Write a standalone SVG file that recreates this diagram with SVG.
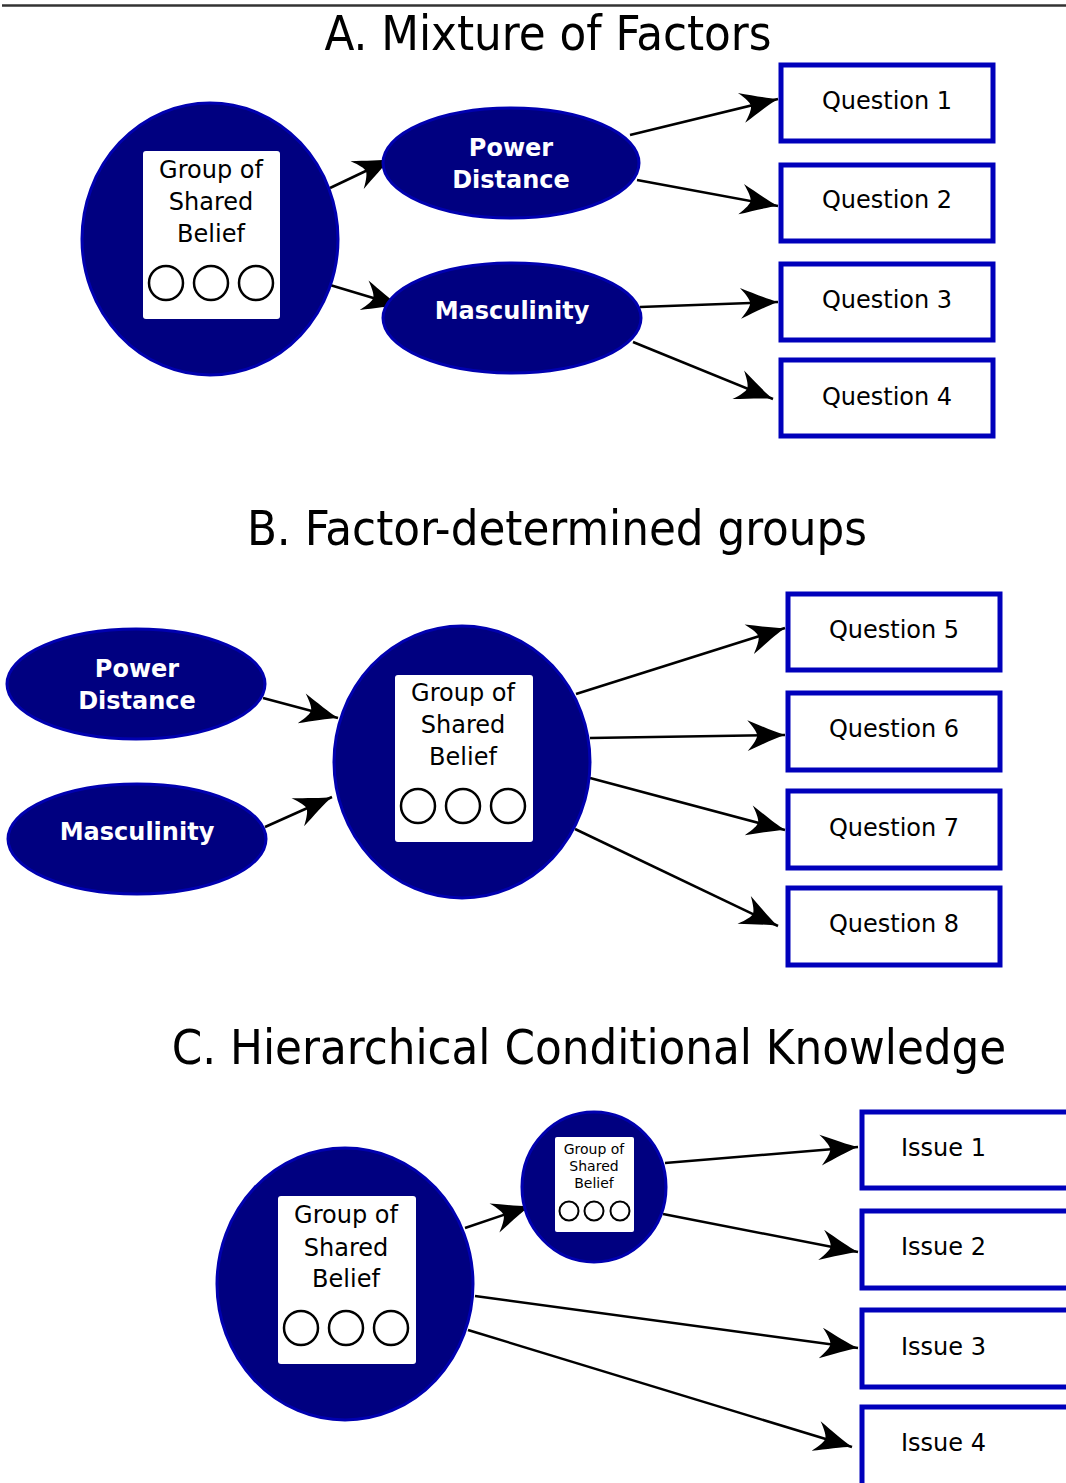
<svg xmlns="http://www.w3.org/2000/svg" width="1066" height="1483" viewBox="0 0 1066 1483">
<style>
.title{font-family:"DejaVu Sans Condensed","DejaVu Sans",sans-serif;font-size:48.6px;fill:#000;text-anchor:middle}
.node{fill:#000080;stroke:#0000b0;stroke-width:3}
.lbl{font-family:"DejaVu Sans",sans-serif;font-weight:bold;font-size:24px;fill:#fff;text-anchor:middle}
.card{fill:#fff;stroke:none}
.gtxt{font-family:"DejaVu Sans",sans-serif;font-size:24px;fill:#000;text-anchor:middle}
.stxt{font-family:"DejaVu Sans",sans-serif;font-size:14px;fill:#000;text-anchor:middle}
.dot{fill:none;stroke:#000;stroke-width:2.5}
.box{fill:#fff;stroke:#0000bb;stroke-width:5}
.qtxt{font-family:"DejaVu Sans",sans-serif;font-size:24px;fill:#000;text-anchor:middle}
.itxt{font-family:"DejaVu Sans",sans-serif;font-size:24px;fill:#000}
.edge{fill:none;stroke:#000;stroke-width:2.5}
</style>
<defs>
<marker id="ah" markerUnits="userSpaceOnUse" markerWidth="50" markerHeight="40" viewBox="-42 -20 52 40" refX="0" refY="0" orient="auto">
<path d="M0,0 C-10,-3 -25,-10 -39,-16 C-32,-8 -29,-3 -29,0 C-29,3 -32,8 -39,16 C-25,10 -10,3 0,0 Z" fill="#000"/>
</marker>
</defs>
<rect x="0" y="0" width="1066" height="1483" fill="#fff"/>
<line x1="2" y1="5.5" x2="1066" y2="5.5" stroke="#333" stroke-width="2.5"/>

<text class="title" x="548" y="50">A. Mixture of Factors</text>
<text class="title" x="557" y="545">B. Factor-determined groups</text>
<text class="title" x="589" y="1064">C. Hierarchical Conditional Knowledge</text>

<g id="connectors">
<path class="edge" d="M330,188 L391,159" marker-end="url(#ah)"/>
<path class="edge" d="M330,285 L400,306" marker-end="url(#ah)"/>
<path class="edge" d="M630,135 L778,99" marker-end="url(#ah)"/>
<path class="edge" d="M637,180 L778,206" marker-end="url(#ah)"/>
<path class="edge" d="M640,307 L778,302" marker-end="url(#ah)"/>
<path class="edge" d="M633,342 L773,399" marker-end="url(#ah)"/>

<path class="edge" d="M263,698 L338,718" marker-end="url(#ah)"/>
<path class="edge" d="M265,827 L332,797" marker-end="url(#ah)"/>
<path class="edge" d="M576,694 L785,628" marker-end="url(#ah)"/>
<path class="edge" d="M590,738 L785,735" marker-end="url(#ah)"/>
<path class="edge" d="M590,778 L785,830" marker-end="url(#ah)"/>
<path class="edge" d="M575,829 L778,926" marker-end="url(#ah)"/>

<path class="edge" d="M465,1228 L530,1206" marker-end="url(#ah)"/>
<path class="edge" d="M665,1163 L858,1147" marker-end="url(#ah)"/>
<path class="edge" d="M663,1214 L858,1252" marker-end="url(#ah)"/>
<path class="edge" d="M475,1296 L858,1348" marker-end="url(#ah)"/>
<path class="edge" d="M468,1330 L852,1447" marker-end="url(#ah)"/>
</g>

<!-- Section A -->
<g id="a-group">
<ellipse class="node" cx="210" cy="239" rx="128" ry="136"/>
<rect class="card" x="143" y="151" width="137" height="168" rx="3"/>
<text class="gtxt" x="211" y="178">Group of</text>
<text class="gtxt" x="211" y="210">Shared</text>
<text class="gtxt" x="211" y="242">Belief</text>
<circle class="dot" cx="166" cy="283" r="17"/>
<circle class="dot" cx="211" cy="283" r="17"/>
<circle class="dot" cx="256" cy="283" r="17"/>
</g>
<g id="a-power">
<ellipse class="node" cx="511" cy="163" rx="128" ry="55"/>
<text class="lbl" x="511" y="156">Power</text>
<text class="lbl" x="511" y="188">Distance</text>
</g>
<g id="a-masc">
<ellipse class="node" cx="512" cy="318" rx="129" ry="55"/>
<text class="lbl" x="512" y="319">Masculinity</text>
</g>
<g id="q1"><rect class="box" x="781" y="65" width="212" height="76"/><text class="qtxt" x="887" y="109">Question 1</text></g>
<g id="q2"><rect class="box" x="781" y="165" width="212" height="76"/><text class="qtxt" x="887" y="208">Question 2</text></g>
<g id="q3"><rect class="box" x="781" y="264" width="212" height="76"/><text class="qtxt" x="887" y="308">Question 3</text></g>
<g id="q4"><rect class="box" x="781" y="360" width="212" height="76"/><text class="qtxt" x="887" y="405">Question 4</text></g>

<!-- Section B -->
<g id="b-group">
<ellipse class="node" cx="462" cy="762" rx="128" ry="136"/>
<rect class="card" x="395" y="675" width="138" height="167" rx="3"/>
<text class="gtxt" x="463" y="701">Group of</text>
<text class="gtxt" x="463" y="733">Shared</text>
<text class="gtxt" x="463" y="765">Belief</text>
<circle class="dot" cx="418" cy="806" r="17"/>
<circle class="dot" cx="463" cy="806" r="17"/>
<circle class="dot" cx="508" cy="806" r="17"/>
</g>
<g id="b-power">
<ellipse class="node" cx="136" cy="684" rx="129" ry="55"/>
<text class="lbl" x="137" y="677">Power</text>
<text class="lbl" x="137" y="709">Distance</text>
</g>
<g id="b-masc">
<ellipse class="node" cx="137" cy="839" rx="129" ry="55"/>
<text class="lbl" x="137" y="840">Masculinity</text>
</g>
<g id="q5"><rect class="box" x="788" y="594" width="212" height="76"/><text class="qtxt" x="894" y="638">Question 5</text></g>
<g id="q6"><rect class="box" x="788" y="693" width="212" height="77"/><text class="qtxt" x="894" y="737">Question 6</text></g>
<g id="q7"><rect class="box" x="788" y="791" width="212" height="77"/><text class="qtxt" x="894" y="836">Question 7</text></g>
<g id="q8"><rect class="box" x="788" y="888" width="212" height="77"/><text class="qtxt" x="894" y="932">Question 8</text></g>

<!-- Section C -->
<g id="c-group">
<ellipse class="node" cx="345" cy="1284" rx="128" ry="136"/>
<rect class="card" x="278" y="1196" width="138" height="168" rx="3"/>
<text class="gtxt" x="346" y="1223">Group of</text>
<text class="gtxt" x="346" y="1256">Shared</text>
<text class="gtxt" x="346" y="1287">Belief</text>
<circle class="dot" cx="301" cy="1328" r="17"/>
<circle class="dot" cx="346" cy="1328" r="17"/>
<circle class="dot" cx="391" cy="1328" r="17"/>
</g>
<g id="c-subgroup">
<ellipse class="node" cx="594" cy="1187" rx="72" ry="75"/>
<rect class="card" x="555" y="1137" width="79" height="95" rx="2"/>
<text class="stxt" x="594" y="1154">Group of</text>
<text class="stxt" x="594" y="1171">Shared</text>
<text class="stxt" x="594" y="1188">Belief</text>
<circle class="dot" cx="569" cy="1211" r="9.5" style="stroke-width:2"/>
<circle class="dot" cx="594" cy="1211" r="9.5" style="stroke-width:2"/>
<circle class="dot" cx="620" cy="1211" r="9.5" style="stroke-width:2"/>
</g>
<g id="i1"><rect class="box" x="862" y="1112" width="212" height="76"/><text class="itxt" x="901" y="1156">Issue 1</text></g>
<g id="i2"><rect class="box" x="862" y="1211" width="212" height="77"/><text class="itxt" x="901" y="1255">Issue 2</text></g>
<g id="i3"><rect class="box" x="862" y="1310" width="212" height="77"/><text class="itxt" x="901" y="1355">Issue 3</text></g>
<g id="i4"><rect class="box" x="862" y="1407" width="212" height="80"/><text class="itxt" x="901" y="1451">Issue 4</text></g>
</svg>
